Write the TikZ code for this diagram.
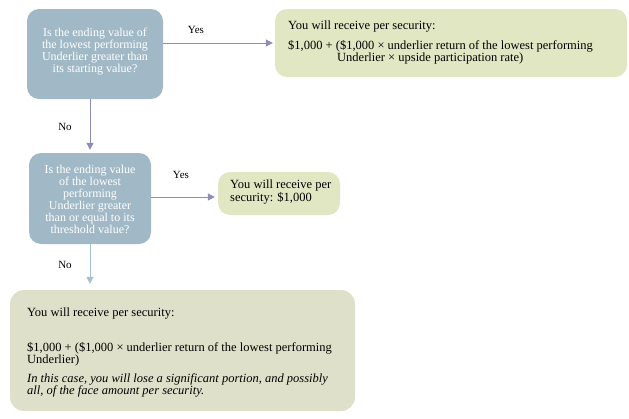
\documentclass[tikz,border=0pt]{standalone}
\usepackage{fontspec}
\setmainfont{Liberation Serif}
\usetikzlibrary{arrows.meta}
\definecolor{qblue}{HTML}{A1B9C7}
\definecolor{rgreen}{HTML}{E1E6C3}
\definecolor{rgrey}{HTML}{DFE0C9}
\definecolor{arrc}{HTML}{8E8DB3}
\definecolor{arrb}{HTML}{A5BFD3}
\tikzset{
  qbox/.style={fill=qblue, rounded corners=12pt, inner sep=0pt},
  qtext/.style={text=white, align=center, inner sep=0pt,
    font=\fontsize{12}{12}\selectfont},
  rbox/.style={fill=rgreen, rounded corners=12pt, inner sep=0pt},
  rtext/.style={text=black, align=left, inner sep=0pt,
    font=\fontsize{12.5}{12}\selectfont},
  lbl/.style={font=\fontsize{11}{12}\selectfont, inner sep=0pt},
  arr/.style={draw=arrc, line width=1pt, -{Triangle[length=7pt,width=7pt]}},
}
\begin{document}
\begin{tikzpicture}[x=1pt,y=-1pt]
\useasboundingbox (0,0) rectangle (629,418);
% question boxes
\node[qbox, minimum width=136pt, minimum height=90pt] (q1) at (95,54) {};
\node[qtext] (q1t) at (95,51.5)
  {Is the ending value of\\the lowest performing\\Underlier greater than\\its starting value?};
\node[qbox, minimum width=122pt, minimum height=91pt] (q2) at (90,198.5) {};
\node[qtext] (q2t) at (90,199)
  {Is the ending value\\of the lowest\\performing\\Underlier greater\\than or equal to its\\threshold value?};
% result boxes
\node[rbox, minimum width=352pt, minimum height=68pt] (r1) at (451,43) {};
\node[rtext, anchor=north west] (r1t) at (288,20.4)
  {You will receive per security:\\[8pt]
   \$1,000 + (\$1,000 × underlier return of the lowest performing\\
   \hspace*{49pt}Underlier × upside participation rate)};
\node[rbox, minimum width=122pt, minimum height=43pt] (r2) at (279,193.5) {};
\node[rtext, anchor=north west, font=\fontsize{12.5}{13.5}\selectfont] (r2t) at (230,179.5)
  {You will receive per\\security: \$1,000};
\node[rbox, fill=rgrey, rounded corners=14pt, minimum width=345pt, minimum height=121pt] (r3) at (182.5,350.5) {};
\node[rtext, anchor=north west] (r3t) at (27,307.5)
  {You will receive per security:\\[23pt]
   \$1,000 + (\$1,000 × underlier return of the lowest performing\\
   Underlier)\\[7pt]
   \itshape In this case, you will lose a significant portion, and possibly\\
   \itshape all, of the face amount per security.};
% connectors
\draw[arr, shorten >=2pt] (q1.east |- r1.west) -- (r1.west);
\draw[arr, shorten >=3pt] (q1.south -| q2.north) -- (q2.north);
\draw[arr, shorten >=3pt] ([yshift=-3.5pt]q2.east |- r2.west) -- ([yshift=-3.5pt]r2.west);
\draw[arr, draw=arrb, shorten >=6pt] (q2.south) -- (q2.south |- r3.north);
% labels
\node[lbl] (y1) at (196,30) {Yes};
\node[lbl] (n1) at (65,127) {No};
\node[lbl] (y2) at (181,175) {Yes};
\node[lbl] (n2) at (65,265) {No};
\end{tikzpicture}
\end{document}
